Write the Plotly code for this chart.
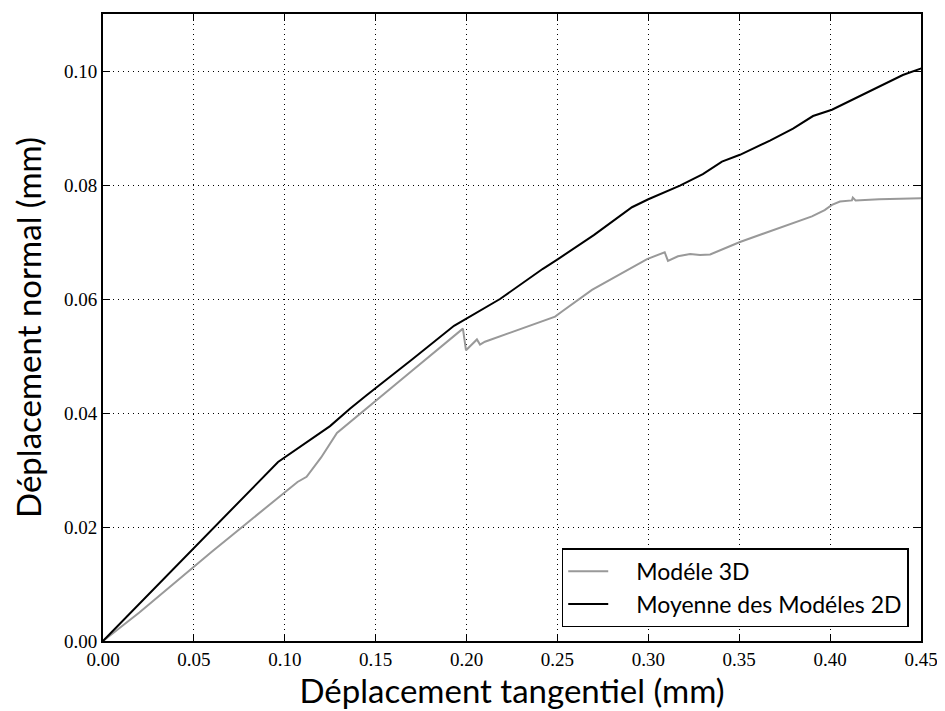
# Import libraries
import plotly.graph_objects as go

# Data
x_3d = [0, 0.005, 0.01, 0.02, 0.03, 0.04, 0.0495, 0.06, 0.07, 0.08, 0.09, 0.1,
        0.107, 0.112, 0.12, 0.1287, 0.136, 0.15, 0.17, 0.198, 0.1997, 0.2057,
        0.2074, 0.2101, 0.23, 0.2487, 0.2525, 0.269, 0.2993, 0.309, 0.3108,
        0.3163, 0.323, 0.3284, 0.334, 0.3504, 0.39, 0.397, 0.401, 0.4054,
        0.412, 0.4125, 0.414, 0.4258, 0.427, 0.4506]
y_3d = [0, 0.0012, 0.0025, 0.0050, 0.0077, 0.0103, 0.0129, 0.0157, 0.0183,
        0.0209, 0.0235, 0.0260, 0.0279, 0.0288, 0.0322, 0.0365, 0.0384,
        0.0421, 0.0474, 0.0548, 0.0510, 0.0529, 0.0520, 0.0525, 0.0547,
        0.0569, 0.0578, 0.0616, 0.0670, 0.0682, 0.0667, 0.0675, 0.0679,
        0.0677, 0.0678, 0.0700, 0.0745, 0.0756, 0.0765, 0.0771, 0.0773,
        0.0778, 0.0773, 0.0776, 0.0775, 0.0777]

x_2d = [0, 0.0963, 0.1249, 0.136, 0.145, 0.155, 0.17, 0.1931, 0.2, 0.2184,
        0.242, 0.2503, 0.27, 0.291, 0.300, 0.3174, 0.330, 0.3405, 0.3504,
        0.3669, 0.3796, 0.3906, 0.401, 0.4236, 0.440, 0.4506]
y_2d = [0, 0.0314, 0.0377, 0.0408, 0.0431, 0.0456, 0.0494, 0.0553, 0.0566,
        0.0600, 0.0653, 0.0670, 0.0712, 0.0761, 0.0775, 0.0799, 0.0819,
        0.0841, 0.0853, 0.0878, 0.0899, 0.0921, 0.0932, 0.0967, 0.0993, 0.1005]

names = ["Modéle 3D", "Moyenne des Modéles 2D"]

# Build figure
fig = go.Figure()
# en spaces give the wider gap between line sample and text
fig.add_trace(go.Scatter(x=x_3d, y=y_3d, mode="lines", name="\u2002\u2002" + names[0],
                         line=dict(color="#999999", width=2)))
fig.add_trace(go.Scatter(x=x_2d, y=y_2d, mode="lines", name="\u2002\u2002" + names[1],
                         line=dict(color="black", width=2)))

axis_style = dict(
    showline=True, linecolor="black", linewidth=2, mirror="allticks",
    ticks="inside", ticklen=7, tickwidth=1, tickcolor="black",
    showgrid=True, gridcolor="black", gridwidth=1, griddash="1px,4px",
    zeroline=False, tickformat=".2f",
    tickfont=dict(family="Liberation Serif", size=19, color="black"),
)

fig.update_xaxes(range=[0, 0.45], dtick=0.05, **axis_style,
                 title=dict(text="Déplacement tangentiel (mm)", standoff=5,
                            font=dict(family="Lato", size=33, color="black")))
fig.update_yaxes(range=[0, 0.11], dtick=0.02, **axis_style,
                 title=dict(text="Déplacement normal (mm)", standoff=16,
                            font=dict(family="Lato", size=33, color="black")))

# page body has an 8px margin, so margins are shifted to land the plot area
fig.update_layout(
    width=945, height=711,
    margin=dict(l=95, r=32, t=4, b=78),
    plot_bgcolor="white", paper_bgcolor="white",
    legend=dict(x=0.985, y=0.022, xanchor="right", yanchor="bottom",
                bordercolor="black", borderwidth=1.5, bgcolor="white",
                font=dict(family="Lato", size=23, color="black"),
                itemwidth=40),
)

fig.write_html("out.html")
